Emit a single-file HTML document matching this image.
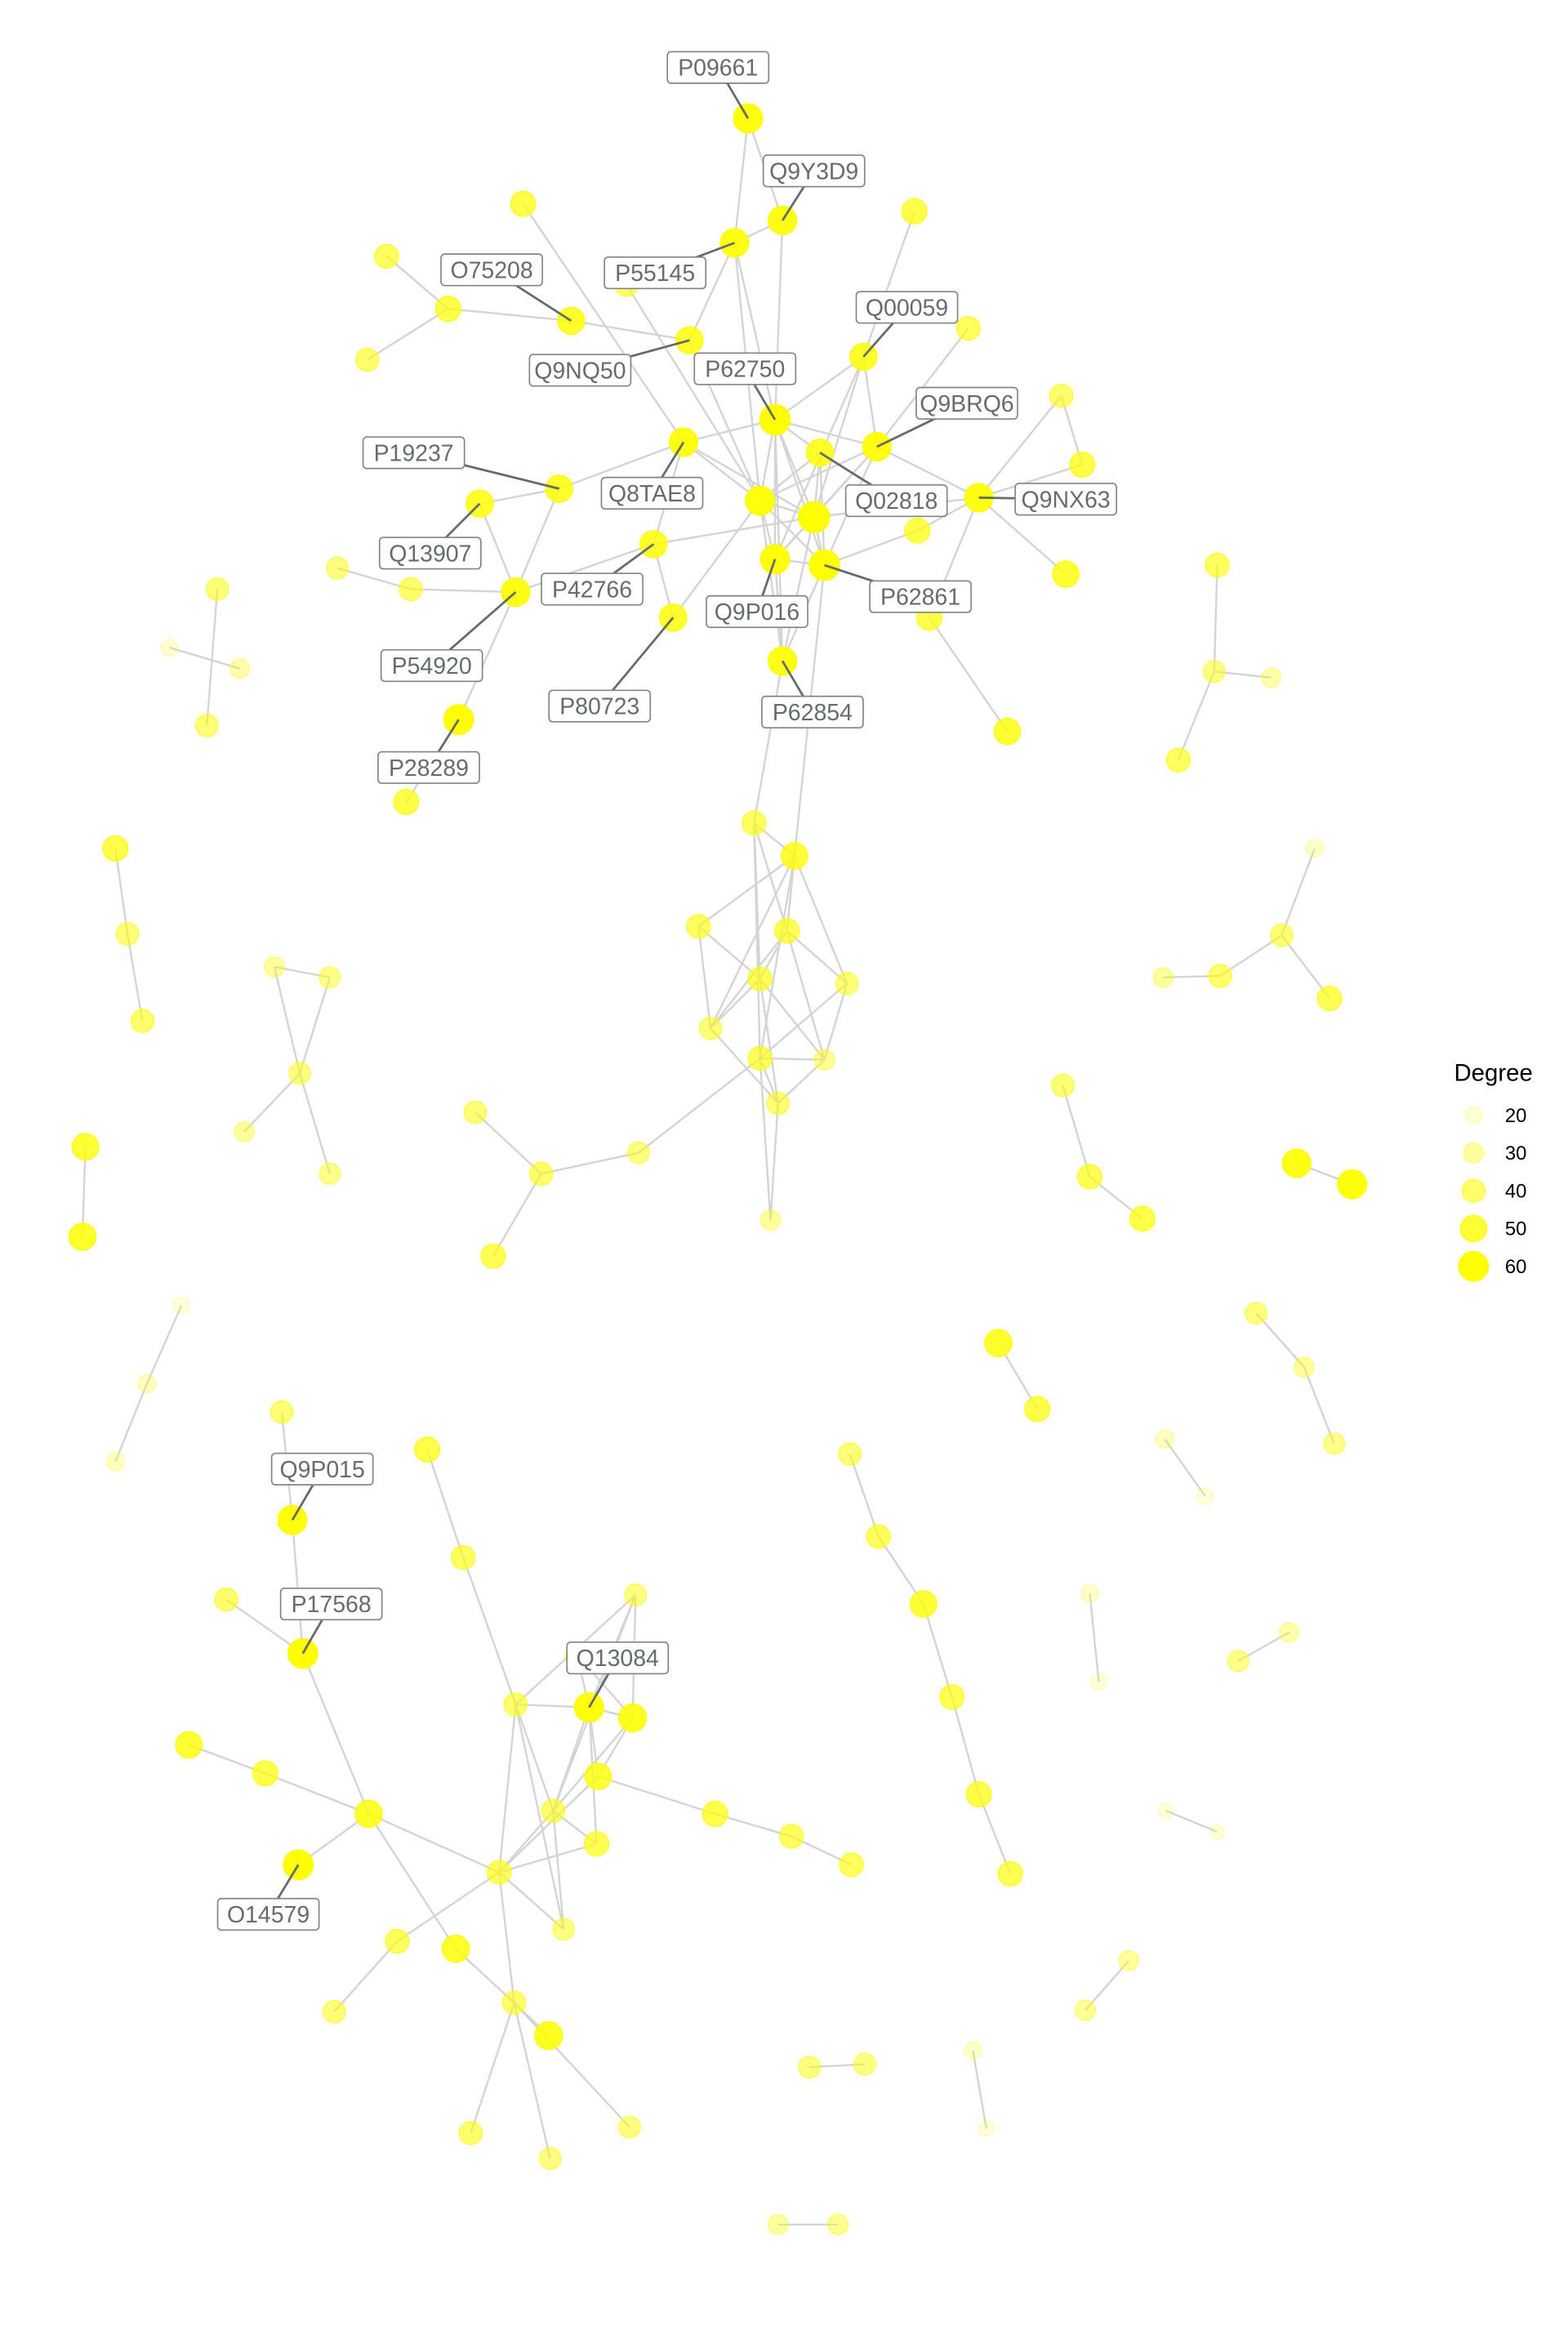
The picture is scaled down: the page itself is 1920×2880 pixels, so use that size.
<!DOCTYPE html>
<html><head><meta charset="utf-8"><style>
html,body{margin:0;padding:0;background:#fff;}
svg{display:block;}
text{font-family:"Liberation Sans",Arial,sans-serif;}
</style></head><body>
<svg id="chart" width="1920" height="2880" viewBox="0 0 1046 1569" xmlns="http://www.w3.org/2000/svg">
<rect width="1046" height="1569" fill="#fff"/>
<g id="edges"></g>
<g id="nodes"></g>
<g id="labels"></g>
<g id="legend"></g>
</svg>
<script>
const nodeIds = ["A","B","C","D","E","F","G","H","I","J","K","L","M","N","O","P","Q","R","S","T","U","V","W","X","Y","Z","a","b","c","d","e","f","g","h","i","j","k","l",
"m","n","o","p","q","r","s","t","u","v","w","x","y","z","z2",
"s1","s2","s3","s4","t1","t2","t3","u1","u2","u3","u4","u5","v1","v2","w1","w2","w3",
"r1","r2","r3","r4","r5","r6","r7","r8","r9","r10","r11","r12","r13","r14","r15","r16","r17","r18","r19","r20","r21","r22","r23","r24","r25","r26","r27","r28","r29","r30","r31","r32","r33","r34","r35",
"c1","c2","c3","c4","c5","c6",
"b1","b2","b3","b4","b5","b6","b7","b8","b9","b10","b11","b12","b13","b14","b15","b16","b17","b18","b19","b20","b21","b22","b23","b24","b25","b26","b27","b28","b29","b30","b31"];
const nodeX = [499,522,490,349,258,299,381,245,418,460,610,576,646,517,456,547,585,708,722,653,373,320,507,543,612,711,436,517,550,225,274,344,449,620,522,672,306,271,
503,530,466,525,507,565,474,507,550,519,514,426,361,317,329,
145,138,113,160,77,85,95,183,220,200,163,220,57,55,121,98,77,
812,810,848,786,877,855,814,776,887,709,727,762,865,902,666,692,838,870,890,777,804,727,733,826,860,778,812,753,724,649,658,540,577,519,559,
567,586,616,635,653,674,
188,195,202,151,126,177,246,199,333,265,223,304,343,366,314,367,420,285,309,424,385,393,422,344,399,369,398,376,477,528,568];
const nodeY = [79,147,162,136,171,206,214,240,190,227,141,238,219,280,295,302,298,264,310,332,326,336,334,345,354,383,363,373,377,379,393,395,412,412,441,488,480,535,
549,571,618,621,653,656,686,706,707,736,814,769,783,742,838,
393,484,432,446,566,623,681,645,652,716,755,783,765,825,871,923,975,
377,448,452,507,566,624,651,652,666,724,785,813,776,790,896,940,876,912,963,960,998,1063,1122,1108,1089,1208,1222,1308,1341,1368,1420,1379,1377,1484,1484,
970,1025,1070,1132,1197,1250,
942,1014,1103,1067,1164,1183,1210,1244,1249,1295,1342,1300,1336,1358,1423,1440,1419,967,1039,1064,1104,1139,1146,1137,1185,1208,1230,1287,1210,1225,1244];
const nodeDegree = [58,56,56,46,42,46,52,40,40,52,46,52,42,62,56,52,56,40,46,56,52,52,58,64,46,50,52,58,62,36,40,56,52,46,56,50,60,46,
42,50,42,44,42,38,38,42,32,38,30,36,40,38,44,
38,38,20,28,46,38,40,30,34,36,30,34,50,52,18,24,24,
42,36,28,42,22,38,40,30,44,38,44,46,56,58,52,46,36,30,34,24,18,22,18,34,28,14,14,30,32,22,16,36,36,30,32,
38,42,50,44,46,44,
38,58,60,40,50,46,52,60,42,42,38,52,40,54,40,36,36,46,42,36,40,58,54,40,50,40,44,36,46,42,42];
const edgePairs = ["A-B","A-C","B-C","B-N","C-J","C-W","C-N","D-O","F-E","F-H","F-G","G-J","I-W","J-W","O-N","O-U","O-W","O-a","O-X",
"N-L","N-Q","N-P","N-W","N-X","N-b","N-c","N-i","L-K","L-X","L-Q","L-b","M-Q","Q-T","Q-W","Q-X","Q-c","Q-b",
"T-R","T-S","T-Z","T-Y","T-h","T-X","R-S","Y-c","h-j","U-V","U-f","V-f","f-e","e-d","f-k","k-l","a-X","a-f","g-W","g-a",
"i-b","i-c","i-W","i-X","W-X","W-P","W-c","b-c","b-X","P-c","X-c","P-X","b-W","c-n",
"i-m","m-n","m-p","m-q","m-t","n-o","n-p","n-s","n-r","n-t","o-q","o-s","p-q","p-s","p-r","p-u","q-s","q-u","q-v","s-v","t-u","t-w","r-u","r-t","u-v","v-w","t-v","t-x","x-y","y-z","y-z2",
"s1-s2","s3-s4","t1-t2","t2-t3","u1-u2","u1-u3","u3-u5","u2-u3","u3-u4","v1-v2","w1-w2","w2-w3",
"r1-r2","r2-r3","r2-r4","r5-r6","r6-r7","r7-r8","r6-r9","r10-r11","r11-r12","r13-r14","r15-r16","r17-r18","r18-r19","r20-r21","r22-r23","r24-r25","r26-r27","r28-r29","r30-r31","r32-r33","r34-r35",
"c1-c2","c2-c3","c3-c4","c4-c5","c5-c6",
"b1-b2","b2-b3","b4-b3","b3-b7","b5-b6","b6-b7","b7-b8","b7-b9","b7-b12","b12-b13","b18-b19","b19-b24","b24-b22","b24-b26","b24-b28","b24-b9",
"b20-b24","b20-b22","b20-b23","b20-b26","b21-b22","b21-b23","b22-b23","b22-b25","b22-b26","b22-b27","b23-b25","b23-b26","b25-b29","b29-b30","b30-b31",
"b25-b9","b26-b9","b27-b9","b9-b10","b10-b11","b9-b13","b9-b28","b13-b14","b13-b15","b13-b16","b13-b17","b26-b28","b26-b27"];
const labelText = ["P09661","Q9Y3D9","O75208","P55145","Q9NQ50","P62750","Q00059","Q9BRQ6","P19237","Q8TAE8","Q02818","Q9NX63","Q13907","P42766","Q9P016","P62861","P54920","P80723","P62854","P28289","Q9P015","P17568","Q13084","O14579"];
const labelNode = ["A","B","G","C","J","N","L","Q","U","O","P","T","V","a","b","c","f","g","i","k","b2","b3","b22","b8"];
const labelX = [479,543,328,437,387,497,605,645,276,435,598,711,287,395,505,614,288,400,542,286,215,221,412,179];
const labelY = [45,114,180,182,247,246,205,269,302,329,334,333,369,393,408,398,444,471,475,512,980,1070,1106,1277];
const legendValues = [20,30,40,50,60];

const NS="http://www.w3.org/2000/svg";
function rScale(d){return 4.8+(Math.max(d,14)-14)*(10-4.8)/46;}
function aScale(d){return Math.min(1,Math.max(0.15,(d-12)/48));}
const idx={};nodeIds.forEach((id,i)=>idx[id]=i);
const gE=document.getElementById('edges'),gN=document.getElementById('nodes'),gL=document.getElementById('labels'),gG=document.getElementById('legend');
edgePairs.forEach(p=>{
  const ab=p.split('-');const i=idx[ab[0]],j=idx[ab[1]];
  if(i===undefined||j===undefined)return;
  const l=document.createElementNS(NS,'line');
  l.setAttribute('x1',nodeX[i]);l.setAttribute('y1',nodeY[i]);l.setAttribute('x2',nodeX[j]);l.setAttribute('y2',nodeY[j]);
  l.setAttribute('stroke','#d4d4d4');l.setAttribute('stroke-width','1.3');
  
  
  gE.appendChild(l);
});
for(let i=0;i<nodeIds.length;i++){
  const c=document.createElementNS(NS,'circle');
  c.setAttribute('cx',nodeX[i]);c.setAttribute('cy',nodeY[i]);c.setAttribute('r',rScale(nodeDegree[i]));
  const a=aScale(nodeDegree[i]);
  c.setAttribute('fill','rgba(255,255,0,'+a.toFixed(2)+')');
  c.setAttribute('stroke','rgba(255,255,0,'+Math.min(1,a+0.15).toFixed(2)+')');c.setAttribute('stroke-width','0.6');
  
  
  gN.appendChild(c);
}
for(let k=0;k<labelText.length;k++){
  const i=idx[labelNode[k]];
  const ln=document.createElementNS(NS,'line');
  ln.setAttribute('x1',labelX[k]);ln.setAttribute('y1',labelY[k]);ln.setAttribute('x2',nodeX[i]);ln.setAttribute('y2',nodeY[i]);
  ln.setAttribute('stroke','#646b6b');ln.setAttribute('stroke-width','1.5');
  
  
  gL.appendChild(ln);
}
for(let k=0;k<labelText.length;k++){
  const g=document.createElementNS(NS,'g');
  
  
  const w=labelText[k].length*10.6+4;
  const r=document.createElementNS(NS,'rect');
  r.setAttribute('x',labelX[k]-w/2);r.setAttribute('y',labelY[k]-10.5);r.setAttribute('width',w);r.setAttribute('height',21);
  r.setAttribute('rx',2.5);r.setAttribute('fill','#fff');r.setAttribute('stroke','#7f8585');r.setAttribute('stroke-width','0.9');
  g.appendChild(r);
  const t=document.createElementNS(NS,'text');
  t.setAttribute('x',labelX[k]);t.setAttribute('y',labelY[k]+5.5);t.setAttribute('text-anchor','middle');
  t.setAttribute('font-size','15.5');t.setAttribute('fill','#656c6c');
  t.textContent=labelText[k];
  g.appendChild(t);
  gL.appendChild(g);
}
const title=document.createElementNS(NS,'text');
title.setAttribute('x',970);title.setAttribute('y',721);title.setAttribute('font-size','16');title.setAttribute('fill','#000');
title.textContent='Degree';


gG.appendChild(title);
legendValues.forEach((v,k)=>{
  const y=744+k*25.2;
  const c=document.createElementNS(NS,'circle');
  c.setAttribute('cx',983);c.setAttribute('cy',y);c.setAttribute('r',rScale(v));
  const a=aScale(v);
  c.setAttribute('fill','rgba(255,255,0,'+a.toFixed(2)+')');
  c.setAttribute('stroke','rgba(255,255,0,'+Math.min(1,a+0.15).toFixed(2)+')');c.setAttribute('stroke-width','0.6');
  
  
  gG.appendChild(c);
  const t=document.createElementNS(NS,'text');
  t.setAttribute('x',1004);t.setAttribute('y',y+4.5);t.setAttribute('font-size','13');t.setAttribute('fill','#000');
  t.textContent=v;
  
  
  gG.appendChild(t);
});
</script>
</body></html>
